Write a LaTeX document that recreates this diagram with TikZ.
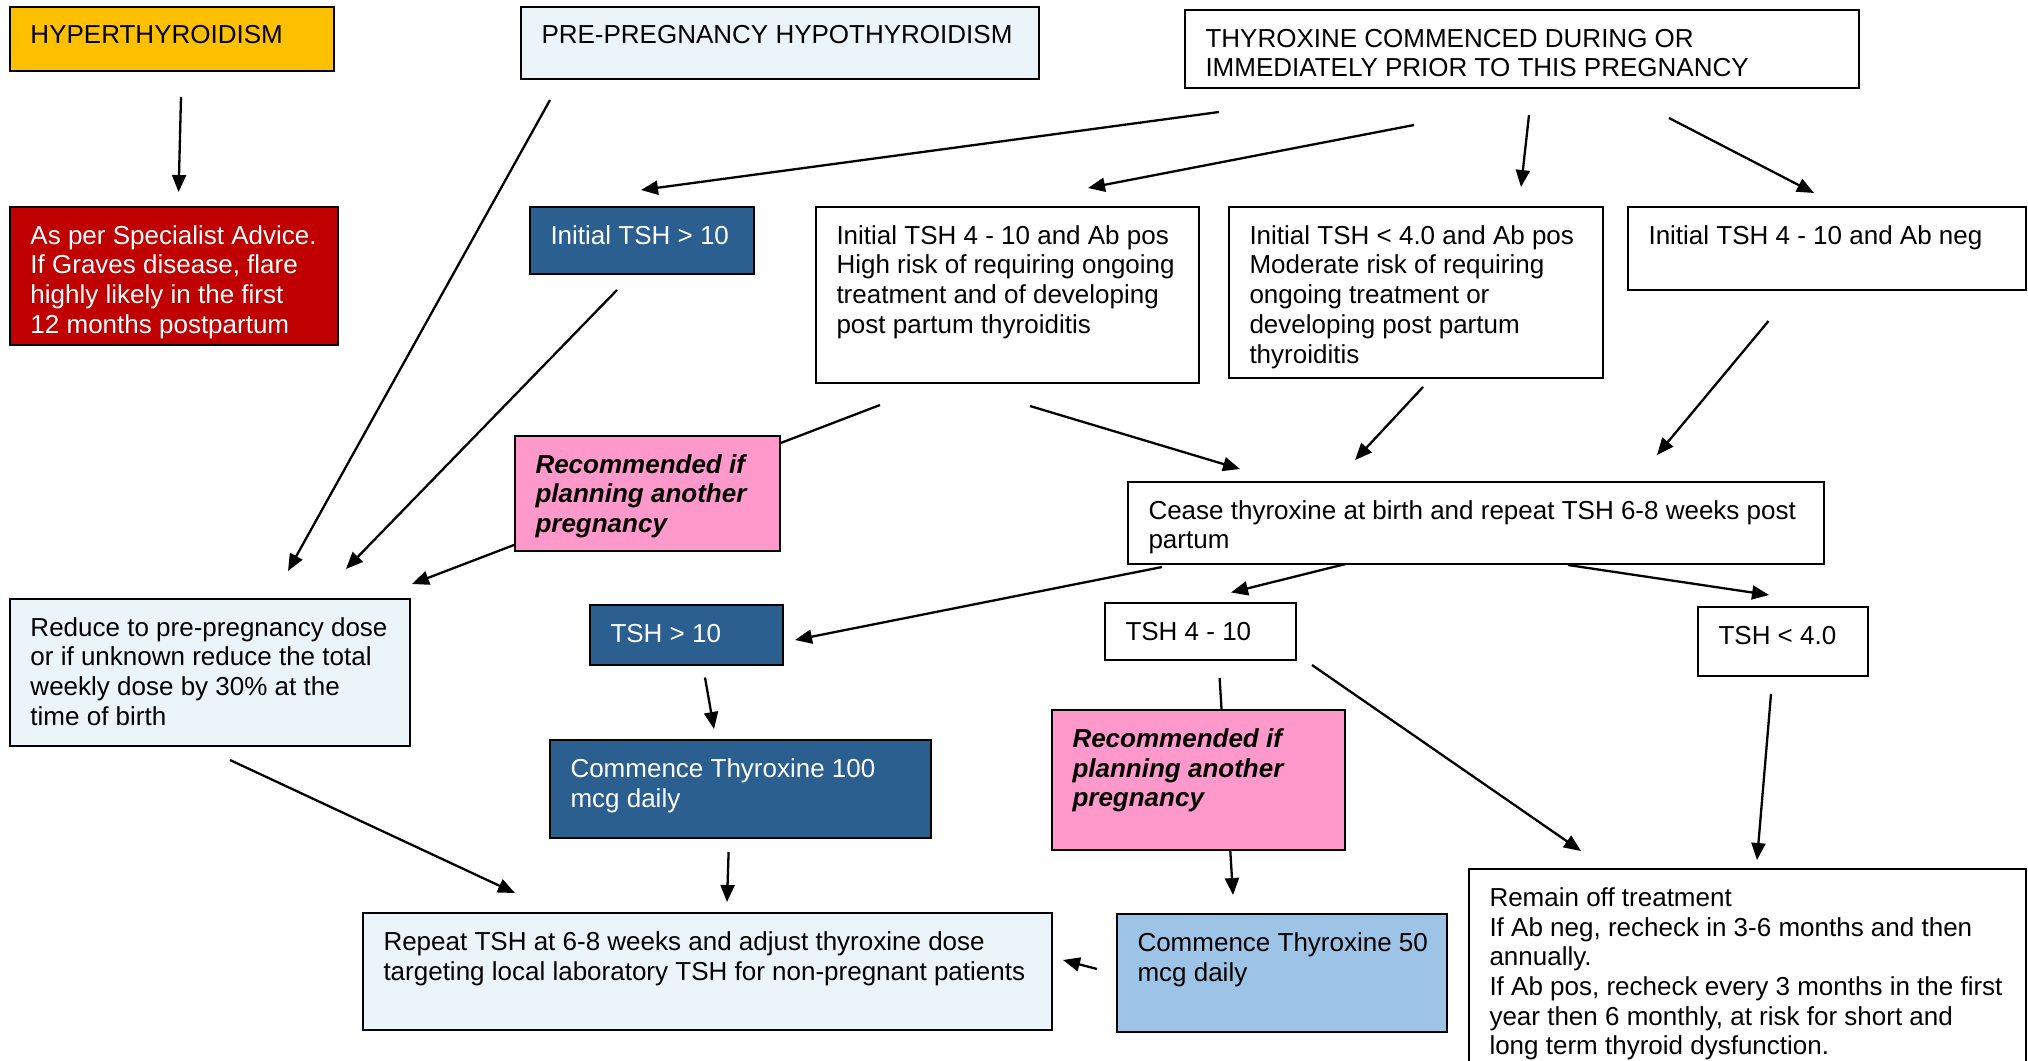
\documentclass[tikz,border=0pt]{standalone}
\usepackage{fontspec}
\setmainfont{Liberation Sans}
\usetikzlibrary{arrows.meta,calc}

% one drawing unit = one pixel of the layout grid
\newlength\pxu \setlength\pxu{0.5pt}

\definecolor{gold}{HTML}{FFC000}
\definecolor{alertred}{HTML}{C00000}
\definecolor{paleblue}{HTML}{EAF4F9}
\definecolor{navyfill}{HTML}{2B5F8F}
\definecolor{pinkfill}{HTML}{FF99CC}
\definecolor{skyfill}{HTML}{9DC3E6}

\pgfdeclarelayer{bg}
\pgfsetlayers{bg,main}

\newcommand\fsz{\fontsize{13pt}{14.85pt}\selectfont}
% box body: width, height (grid units), lines of text set top-left
\newcommand\boxtext[3]{\parbox[c][#2\pxu][t]{#1\pxu}{\vspace*{16.5\pxu}\hspace*{20.5\pxu}\begin{tabular}[t]{@{}l@{}}#3\end{tabular}}}
% connector between two boxes, end points given as offsets from each box's top-left corner
\newcommand\link[4]{\draw[arr] ($(#1.north west)+(#2)$) -- ($(#3.north west)+(#4)$);}

\begin{document}
\begin{tikzpicture}[x=0.5pt, y=-0.5pt,
  box/.style={draw=black, line width=1pt, inner sep=0pt, outer sep=0pt, anchor=north west, font=\fsz, text=black},
  plain/.style={box, fill=white},
  pale/.style={box, fill=paleblue},
  navy/.style={box, fill=navyfill, text=white},
  hot/.style={box, fill=alertred, text=white},
  warn/.style={box, fill=gold},
  advice/.style={box, fill=pinkfill, font=\fsz\bfseries\itshape},
  sky/.style={box, fill=skyfill},
  arr/.style={line width=1.15pt, -{Triangle[length=8.5pt,width=7pt]}}]

\useasboundingbox (0,0) rectangle (2028,1060);
\clip (0,0) rectangle (2028,1060);

% top row
\node[warn] (hyper) at (10,6.5) {\boxtext{324}{64.5}{HYPERTHYROIDISM}};
\node[pale] (prepreg) at (521,6.5) {\boxtext{518}{72.5}{PRE-PREGNANCY HYPOTHYROIDISM}};
\node[plain] (thyrox) at (1185,10) {\boxtext{674}{78}{THYROXINE COMMENCED DURING OR\\IMMEDIATELY PRIOR TO THIS PREGNANCY}};

% second row
\node[hot] (red) at (10,207) {\boxtext{328}{138}{As per Specialist Advice.\\If Graves disease, flare\\highly likely in the first\\12 months postpartum}};
\node[navy] (itsh10) at (530,207) {\boxtext{224}{67}{Initial TSH > 10}};
\node[plain] (ipos) at (816,207) {\boxtext{383}{176}{Initial TSH 4 - 10 and Ab pos\\High risk of requiring ongoing\\treatment and of developing\\post partum thyroiditis}};
\node[plain] (ilow) at (1229,207) {\boxtext{374}{171}{Initial TSH < 4.0 and Ab pos\\Moderate risk of requiring\\ongoing treatment or\\developing post partum\\thyroiditis}};
\node[plain] (ineg) at (1628,207) {\boxtext{398}{83}{Initial TSH 4 - 10 and Ab neg}};

% middle
\node[advice] (pink1) at (515,436) {\boxtext{265}{115}{Recommended if\\planning another\\pregnancy}};
\node[plain] (cease) at (1128,482) {\boxtext{696}{82}{Cease thyroxine at birth and repeat TSH 6-8 weeks post\\partum}};
\node[pale] (reduce) at (10,599) {\boxtext{400}{147}{Reduce to pre-pregnancy dose\\or if unknown reduce the total\\weekly dose by 30\% at the\\time of birth}};
\node[navy] (tsh10) at (590,605) {\boxtext{193}{60}{TSH > 10}};
\node[plain] (tshmid) at (1105,603) {\boxtext{191}{57}{TSH 4 - 10}};
\node[plain] (tshlow) at (1698,607) {\boxtext{170}{69}{TSH < 4.0}};

% lower rows
\node[navy] (c100) at (550,740) {\boxtext{381}{98}{Commence Thyroxine 100\\mcg daily}};
\node[advice] (pink2) at (1052,710) {\boxtext{293}{140}{Recommended if\\planning another\\pregnancy}};
\node[pale] (repeat) at (363,913) {\boxtext{689}{117}{Repeat TSH at 6-8 weeks and adjust thyroxine dose\\targeting local laboratory TSH for non-pregnant patients}};
\node[sky] (c50) at (1117,914) {\boxtext{330}{118}{Commence Thyroxine 50\\mcg daily}};
\node[plain] (remain) at (1469,869) {\boxtext{557}{230}{Remain off treatment\\If Ab neg, recheck in 3-6 months and then\\annually.\\If Ab pos, recheck every 3 months in the first\\year then 6 monthly, at risk for short and\\long term thyroid dysfunction.}};

\begin{pgfonlayer}{bg}
\fill[white] (0,0) rectangle (2028,1060);
\link{hyper}{171,90.5}{red}{168.6,-15}
\link{prepreg}{29,93.5}{reduce}{278,-28}
\link{thyrox}{34,102}{itsh10}{111,-17}
\link{thyrox}{229,115}{ipos}{272,-19}
\link{thyrox}{344,105}{ilow}{292,-20}
\link{thyrox}{484,108}{ineg}{186,-14}
\link{itsh10}{87,83}{reduce}{336,-30}
\link{ipos}{64,198}{reduce}{402,-15}
\link{ipos}{214,199}{cease}{112,-13}
\link{ilow}{194,180}{cease}{227,-22}
\link{ineg}{140.5,114}{cease}{529,-27}
\link{cease}{34,85}{tsh10}{205,35}
\link{cease}{217.5,82}{tshmid}{126,-10.5}
\link{cease}{440,83}{tshlow}{71,-12}
\link{tsh10}{115,72.5}{c100}{164,-11}
\link{tshmid}{114.6,75}{c50}{116,-19}
\link{tshmid}{207,62}{remain}{112,-18}
\link{tshlow}{73,87}{remain}{288,-9}
\link{reduce}{220,161}{repeat}{152,-20}
\link{c100}{178.6,112}{repeat}{364,-11}
\link{c50}{-20,55}{repeat}{700,47}
\end{pgfonlayer}
\end{tikzpicture}
\end{document}
